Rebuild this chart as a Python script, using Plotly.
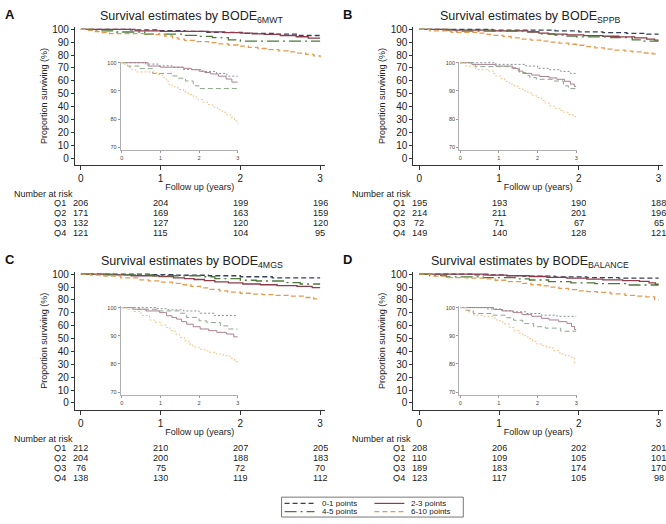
import plotly.graph_objects as go

W, H = 666, 524

# ---------------- data ----------------
groups = ["0-1 points", "2-3 points", "4-5 points", "6-10 points"]
panel_letters = ["A", "B", "C", "D"]
panel_subs = ["6MWT", "SPPB", "4MGS", "BALANCE"]
x_ticks = [0, 1, 2, 3]
y_ticks_main = [0, 10, 20, 30, 40, 50, 60, 70, 80, 90, 100]
y_ticks_inset = [70, 80, 90, 100]
risk_labels = ["Q1", "Q2", "Q3", "Q4"]
risk_times = [0, 1, 2, 3]

# Panel A (BODE 6MWT)
A01_t = [0, 0.62, 0.95, 1.3, 1.58, 2.05, 2.45, 2.72, 3.0]
A01_s = [100, 99.5, 98.9, 98.4, 97.6, 96.9, 96.2, 95.2, 95.2]
A23_t = [0, 0.68, 1.0, 1.6, 1.8, 2.0, 2.15, 2.3, 2.5, 2.7, 2.85, 3.0]
A23_s = [100, 98.8, 98.4, 98.0, 97.5, 97.0, 96.5, 96.0, 95.2, 94.2, 93.1, 93.1]
A45_t = [0, 0.15, 0.45, 0.8, 1.3, 1.45, 1.65, 1.85, 2.0, 3.0]
A45_s = [100, 98.8, 97.9, 96.2, 95.3, 94.5, 93.5, 91.8, 90.8, 90.8]
A610_t = [0, 0.08, 0.16, 0.26, 0.36, 0.9, 1.05, 1.15, 1.22, 1.3, 1.45, 1.6, 1.72, 1.85,
          1.97, 2.1, 2.22, 2.35, 2.48, 2.6, 2.72, 2.82, 2.92, 3.0]
A610_s = [100, 99.2, 98.3, 97.5, 96.7, 95.8, 94.8, 93.4, 92.3, 91.4, 90.5, 89.6, 88.7, 87.8,
          86.9, 86.0, 85.1, 84.2, 83.3, 82.4, 81.5, 80.5, 79.3, 78.3]

# Panel B (BODE SPPB)
B01_t = [0, 0.92, 1.7, 2.0, 2.3, 2.6, 2.85, 3.0]
B01_s = [100, 99.4, 98.8, 98.0, 97.5, 96.9, 96.2, 96.2]
B23_t = [0, 0.3, 0.92, 1.36, 1.5, 1.62, 1.85, 2.06, 2.3, 2.5, 2.7, 2.85, 2.95, 3.0]
B23_s = [100, 99.4, 98.8, 97.9, 97.0, 96.2, 95.6, 95.1, 94.6, 94.1, 93.4, 92.4, 91.6, 91.6]
B45_t = [0, 0.39, 1.3, 1.53, 1.7, 1.8, 1.97, 2.4, 2.67, 2.8, 3.0]
B45_s = [100, 98.6, 98.2, 96.5, 95.5, 94.7, 94.1, 93.5, 91.8, 90.8, 90.8]
B610_t = [0, 0.13, 0.4, 0.74, 0.85, 0.92, 1.05, 1.15, 1.27, 1.4, 1.52, 1.62, 1.75, 1.87,
          1.97, 2.1, 2.2, 2.32, 2.45, 2.58, 2.67, 2.8, 2.92, 3.0]
B610_s = [100, 98.8, 97.6, 97.0, 96.1, 95.3, 94.4, 93.4, 92.4, 91.6, 90.8, 90.0, 89.2, 88.4,
          87.6, 86.6, 85.6, 84.6, 83.8, 83.0, 82.4, 81.6, 80.9, 80.9]

# Panel C (BODE 4MGS)
C01_t = [0, 0.9, 1.16, 1.6, 2.0, 2.4, 3.0]
C01_s = [100, 99.6, 99.2, 98.8, 98.0, 97.2, 97.2]
C23_t = [0, 0.29, 0.63, 0.98, 1.16, 1.3, 1.42, 1.55, 1.68, 1.85, 2.03, 2.25, 2.46, 2.71, 2.9, 3.0]
C23_s = [100, 99.4, 98.8, 98.2, 97.1, 96.5, 95.9, 95.0, 94.1, 93.2, 92.4, 91.8, 91.2, 90.6, 89.6, 89.6]
C45_t = [0, 0.45, 0.9, 1.5, 1.68, 2.0, 2.2, 2.55, 2.75, 3.0]
C45_s = [100, 99.4, 98.8, 98.0, 96.5, 95.3, 94.7, 93.5, 92.4, 92.4]
C610_t = [0, 0.12, 0.29, 0.5, 0.72, 0.85, 1.0, 1.15, 1.25, 1.38, 1.5, 1.62, 1.74, 1.84,
          2.0, 2.15, 2.28, 2.45, 2.63, 2.8, 2.92, 3.0]
C610_s = [100, 99.3, 98.6, 97.2, 95.6, 94.8, 93.8, 92.9, 91.8, 90.6, 89.4, 88.2, 87.0, 86.0,
          85.2, 84.6, 84.1, 83.5, 82.9, 81.9, 80.8, 80.8]

# Panel D (BODE BALANCE)
D01_t = [0, 0.7, 1.05, 1.3, 1.7, 2.1, 2.5, 3.0]
D01_s = [100, 99.5, 98.9, 98.5, 97.9, 97.3, 96.9, 96.9]
D23_t = [0, 0.86, 1.1, 1.38, 1.6, 1.85, 2.1, 2.3, 2.55, 2.76, 2.88, 2.96, 3.0]
D23_s = [100, 99.3, 98.8, 98.2, 97.5, 96.9, 96.2, 95.6, 95.0, 94.4, 93.3, 92.2, 92.2]
D45_t = [0, 0.13, 0.34, 0.8, 1.2, 1.38, 1.62, 1.9, 2.2, 2.6, 3.0]
D45_s = [100, 99.0, 97.9, 97.3, 96.4, 95.5, 94.3, 93.2, 92.7, 91.6, 91.6]
D610_t = [0, 0.17, 0.34, 0.6, 0.83, 0.95, 1.1, 1.27, 1.4, 1.52, 1.62, 1.75, 1.87, 1.97,
          2.1, 2.23, 2.4, 2.58, 2.72, 2.84, 2.95, 3.0]
D610_s = [100, 98.5, 97.3, 96.9, 96.3, 95.3, 94.2, 92.9, 91.8, 90.9, 90.0, 89.0, 88.0, 87.1,
          86.5, 85.9, 84.7, 83.5, 82.9, 82.4, 80.3, 80.3]

# Number at risk
risk_A = [[206, 204, 199, 196], [171, 169, 163, 159], [132, 127, 120, 120], [121, 115, 104, 95]]
risk_B = [[195, 193, 190, 188], [214, 211, 201, 196], [72, 71, 67, 65], [149, 140, 128, 121]]
risk_C = [[212, 210, 207, 205], [204, 200, 188, 183], [76, 75, 72, 70], [138, 130, 119, 112]]
risk_D = [[208, 206, 202, 201], [110, 109, 105, 101], [189, 183, 174, 170], [123, 117, 105, 98]]

curves = [
    [(A01_t, A01_s), (A23_t, A23_s), (A45_t, A45_s), (A610_t, A610_s)],
    [(B01_t, B01_s), (B23_t, B23_s), (B45_t, B45_s), (B610_t, B610_s)],
    [(C01_t, C01_s), (C23_t, C23_s), (C45_t, C45_s), (C610_t, C610_s)],
    [(D01_t, D01_s), (D23_t, D23_s), (D45_t, D45_s), (D610_t, D610_s)],
]
risks = [risk_A, risk_B, risk_C, risk_D]

# ---------------- styles ----------------
FONT = "Liberation Sans, Arial, Helvetica, sans-serif"
main_colors = ["#34425a", "#8e3b4b", "#4c7a3a", "#e59a4e"]
main_dash = ["5px,3px", "solid", "12px,4px,2px,4px", "5px,3px"]
inset_colors = ["#8a8f99", "#a8808f", "#8fa68c", "#f0c48c"]
inset_dash = ["2px,2px", "solid", "5px,3px", "2px,2px"]


def px_x(p):
    return p / W


def px_y(p):
    return (H - p) / H


offsets = [(0, 0), (339, 0), (0, 246.3), (339, 246.3)]

fig = go.Figure()
layout = dict(
    width=W, height=H,
    margin=dict(l=0, r=0, t=0, b=0),
    paper_bgcolor="white", plot_bgcolor="rgba(0,0,0,0)",
    font=dict(family=FONT, color="#222", size=10),
    showlegend=False,
)
annotations = []
shapes = []

for pi in range(4):
    dx, dy = offsets[pi]
    mi = pi + 1
    ii = pi + 5
    for gi, (t, s) in enumerate(curves[pi]):
        fig.add_trace(go.Scatter(
            x=t, y=s, mode="lines", line_shape="hv", name=groups[gi],
            line=dict(color=main_colors[gi], dash=main_dash[gi], width=1.3),
            xaxis=f"x{mi}", yaxis=f"y{mi}", hoverinfo="skip"))
    for gi, (t, s) in enumerate(curves[pi]):
        fig.add_trace(go.Scatter(
            x=t, y=s, mode="lines", line_shape="hv", name=groups[gi],
            line=dict(color=inset_colors[gi], dash=inset_dash[gi], width=1),
            xaxis=f"x{ii}", yaxis=f"y{ii}", hoverinfo="skip"))

    xk = "xaxis" if mi == 1 else f"xaxis{mi}"
    yk = "yaxis" if mi == 1 else f"yaxis{mi}"
    layout[xk] = dict(
        domain=[px_x(75 + dx), px_x(325 + dx)], range=[-0.075, 3.055],
        anchor=f"y{mi}", showline=True, linecolor="#333", linewidth=1,
        ticks="outside", ticklen=4, tickcolor="#333", tickvals=x_ticks,
        tickfont=dict(size=10, color="#222"), showgrid=False, zeroline=False,
        title=dict(text="Follow up (years)", font=dict(size=9, color="#222"), standoff=0),
        fixedrange=True)
    layout[yk] = dict(
        domain=[px_y(163 + dy), px_y(24 + dy)], range=[-5.43, 101.9],
        anchor=f"x{mi}", showline=True, linecolor="#333", linewidth=1,
        ticks="outside", ticklen=3, tickcolor="#333", tickvals=y_ticks_main,
        tickfont=dict(size=10, color="#222"), showgrid=False, zeroline=False,
        title=dict(text="Proportion surviving (%)", font=dict(size=9, color="#222"), standoff=3),
        fixedrange=True)
    layout[f"xaxis{ii}"] = dict(
        domain=[px_x(120.8 + dx), px_x(238.8 + dx)], range=[-0.03, 3.02],
        anchor=f"y{ii}", showline=True, linecolor="#b0b0b0", linewidth=1,
        ticks="outside", ticklen=2, tickcolor="#999", tickvals=x_ticks,
        tickfont=dict(size=5.5, color="#444"), showgrid=False, zeroline=False,
        fixedrange=True)
    layout[f"yaxis{ii}"] = dict(
        domain=[px_y(148.1 + dy), px_y(58.9 + dy)], range=[68.9, 100.4],
        anchor=f"x{ii}", showline=True, linecolor="#b0b0b0", linewidth=1,
        ticks="outside", ticklen=2, tickcolor="#999", tickvals=y_ticks_inset,
        tickfont=dict(size=5.5, color="#444"), showgrid=False, zeroline=False,
        fixedrange=True)

    annotations.append(dict(
        text=f"<b>{panel_letters[pi]}</b>", xref="paper", yref="paper",
        x=px_x(3 + dx), y=px_y(12 + dy), xanchor="left", yanchor="middle",
        showarrow=False, font=dict(size=13, color="#111")))
    annotations.append(dict(
        text=f"Survival estimates by BODE<sub>{panel_subs[pi]}</sub>",
        xref="paper", yref="paper", x=px_x(192 + dx), y=px_y(14 + dy),
        xanchor="center", yanchor="middle", showarrow=False,
        font=dict(size=12.5, color="#222")))
    annotations.append(dict(
        text="Number at risk", xref="paper", yref="paper",
        x=px_x(12 + dx), y=px_y(192 + dy), xanchor="left", yanchor="middle",
        height=9, showarrow=False, font=dict(size=9, color="#222")))
    row_y = [201, 211, 221, 230.7]
    for ri, lab in enumerate(risk_labels):
        annotations.append(dict(
            text=lab, xref="paper", yref="paper", x=px_x(68.5 + dx), y=px_y(row_y[ri] + dy),
            xanchor="right", yanchor="middle", height=9, showarrow=False,
            font=dict(size=9.2, color="#222")))
        for ti, tv in enumerate(risk_times):
            annotations.append(dict(
                text=str(risks[pi][ri][ti]), xref=f"x{mi}", yref="paper",
                x=tv, y=px_y(row_y[ri] + dy), xanchor="center", yanchor="middle",
                height=9, showarrow=False, font=dict(size=9.2, color="#222")))

# legend box (layout decoration)
shapes.append(dict(type="rect", xref="paper", yref="paper",
                   x0=px_x(282), x1=px_x(464), y0=px_y(517), y1=px_y(497),
                   line=dict(color="#555", width=0.8), fillcolor="white"))
leg_pos = [(285, 503.3), (375, 503.3), (285, 511.5), (375, 511.5)]
for gi, (lx, ly) in enumerate(leg_pos):
    shapes.append(dict(type="line", xref="paper", yref="paper",
                       x0=px_x(lx), x1=px_x(lx + 30), y0=px_y(ly), y1=px_y(ly),
                       line=dict(color=main_colors[gi], dash=main_dash[gi], width=1.2)))
    annotations.append(dict(
        text=groups[gi], xref="paper", yref="paper", x=px_x(lx + 35), y=px_y(ly),
        xanchor="left", yanchor="middle", height=7, showarrow=False,
        font=dict(size=8, color="#222")))

layout["annotations"] = annotations
layout["shapes"] = shapes
fig.update_layout(**layout)
fig.write_html(
    "out.html",
    config={"displayModeBar": False},
    post_script="document.body.style.margin='0';document.body.style.overflow='hidden';",
)
